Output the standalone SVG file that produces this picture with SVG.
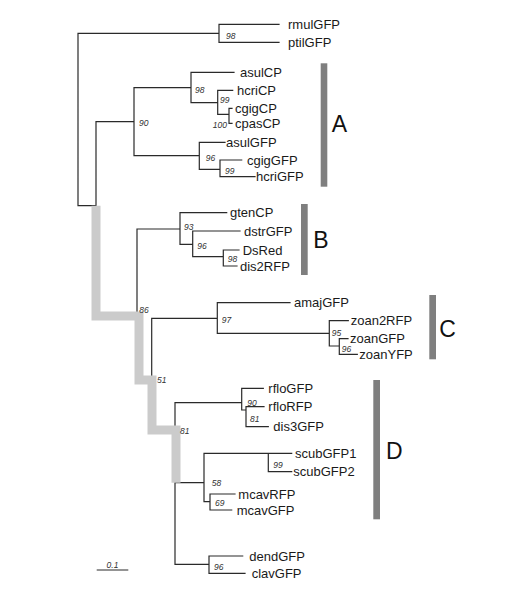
<svg xmlns="http://www.w3.org/2000/svg" width="508" height="600" viewBox="0 0 508 600">
<style>
.br{fill:none;stroke:#2a2a2a;stroke-width:1.2;stroke-linecap:square}
.hl{fill:none;stroke:#cbcbcb;stroke-width:9;stroke-linejoin:miter;stroke-linecap:butt}
.lf{font-family:"Liberation Sans",Arial,sans-serif;font-size:13px;fill:#1a1a1a}
.bs{font-family:"Liberation Sans",Arial,sans-serif;font-size:8.5px;font-style:italic;fill:#333}
.bar{fill:#7f7f7f}
.cl{font-family:"Liberation Sans",Arial,sans-serif;font-size:23px;fill:#111}
</style>
<rect width="508" height="600" fill="#fff"/>
<g id="connectors">
<path class="br" d="M78,33.3V205.7H96 M78,33.3H219 M219,24.3V42.3 M219,24.3H279 M219,42.3H279
M96,121.7V316 M96,121.7H134 M134,87.7V155.7 M134,87.7H191 M134,155.7H199.3
M191,72.3V102.7 M191,72.3H234 M191,102.7H217.7
M217.7,90.3V114.3 M217.7,90.3H232.7 M217.7,114.3H229
M229,108.3V123.3 M229,108.3H232 M229,123.3H232
M199.3,142.3V169.3 M199.3,142.3H225 M199.3,169.3H220
M220,160V176.7 M220,160H241.7 M220,176.7H255
M96,316H137 M137,229V380 M137,229H180 M137,380H151.7
M180,212.7V244.3 M180,212.7H226.7 M180,244.3H192.7
M192.7,231V256.7 M192.7,231H240 M192.7,256.7H223.3
M223.3,250V266 M223.3,250H239 M223.3,266H237
M151.7,318.3V430 M151.7,318.3H217.3 M151.7,430H175
M217.3,302.7V333.3 M217.3,302.7H290 M217.3,333.3H329.3
M329.3,320.7V346 M329.3,320.7H348.3 M329.3,346H339.3
M339.3,338.7V354.3 M339.3,338.7H348 M339.3,354.3H357.3
M175,402.7V564.3 M175,402.7H241.7 M175,482.7H204 M175,564.3H209
M241.7,388.3V410 M241.7,388.3H263.3 M241.7,410H246
M246,406.7V426.7 M246,406.7H264 M246,426.7H268.3
M204,453.3V501.7 M204,453.3H268.3 M204,501.7H210
M268.3,453.3V471.7 M268.3,453.3H291.7 M268.3,471.7H291.7
M210,494V510 M210,494H235 M210,510H231.7
M209,556V573.3 M209,556H242.7 M209,573.3H245"/>
<path id="highlight" class="hl" d="M96,205.7V316H139V380H152V430H176V482.7"/>
</g>
<g id="bootstrap">
<text class="bs" x="226" y="39">98</text>
<text class="bs" x="195" y="93">98</text>
<text class="bs" x="220" y="103">99</text>
<text class="bs" x="227" y="128" text-anchor="end">100</text>
<text class="bs" x="139" y="126">90</text>
<text class="bs" x="205.7" y="161">96</text>
<text class="bs" x="225" y="173.7">99</text>
<text class="bs" x="184" y="230.3">93</text>
<text class="bs" x="197.3" y="249">96</text>
<text class="bs" x="227.7" y="262.3">98</text>
<text class="bs" x="139.3" y="312.5">86</text>
<text class="bs" x="221.7" y="323">97</text>
<text class="bs" x="331.7" y="335.7">95</text>
<text class="bs" x="341.7" y="352.3">96</text>
<text class="bs" x="157" y="383">51</text>
<text class="bs" x="247.3" y="405.7">90</text>
<text class="bs" x="250" y="422.3">81</text>
<text class="bs" x="180" y="434">81</text>
<text class="bs" x="273.3" y="468">99</text>
<text class="bs" x="211.7" y="486.3">58</text>
<text class="bs" x="215" y="506.3">69</text>
<text class="bs" x="214" y="569.7">96</text>
</g>
<g id="leaf-rmulGFP"><text class="lf" x="288" y="28.8">rmulGFP</text></g>
<g id="leaf-ptilGFP"><text class="lf" x="288" y="46.8">ptilGFP</text></g>
<g id="leaf-asulCP"><text class="lf" x="240" y="76.8">asulCP</text></g>
<g id="leaf-hcriCP"><text class="lf" x="237" y="94.8">hcriCP</text></g>
<g id="leaf-cgigCP"><text class="lf" x="235" y="112.8">cgigCP</text></g>
<g id="leaf-cpasCP"><text class="lf" x="235" y="127.8">cpasCP</text></g>
<g id="leaf-asulGFP"><text class="lf" x="226" y="146.8">asulGFP</text></g>
<g id="leaf-cgigGFP"><text class="lf" x="247" y="164.5">cgigGFP</text></g>
<g id="leaf-hcriGFP"><text class="lf" x="256" y="181.2">hcriGFP</text></g>
<g id="leaf-gtenCP"><text class="lf" x="230" y="217.2">gtenCP</text></g>
<g id="leaf-dstrGFP"><text class="lf" x="244" y="235.5">dstrGFP</text></g>
<g id="leaf-DsRed"><text class="lf" x="242.7" y="254.5">DsRed</text></g>
<g id="leaf-dis2RFP"><text class="lf" x="240" y="270.5">dis2RFP</text></g>
<g id="leaf-amajGFP"><text class="lf" x="294" y="307.2">amajGFP</text></g>
<g id="leaf-zoan2RFP"><text class="lf" x="350.7" y="325.2">zoan2RFP</text></g>
<g id="leaf-zoanGFP"><text class="lf" x="350" y="343.2">zoanGFP</text></g>
<g id="leaf-zoanYFP"><text class="lf" x="359.3" y="358.8">zoanYFP</text></g>
<g id="leaf-rfloGFP"><text class="lf" x="268.3" y="392.8">rfloGFP</text></g>
<g id="leaf-rfloRFP"><text class="lf" x="268.3" y="411.2">rfloRFP</text></g>
<g id="leaf-dis3GFP"><text class="lf" x="273.3" y="431.2">dis3GFP</text></g>
<g id="leaf-scubGFP1"><text class="lf" x="295" y="457.8">scubGFP1</text></g>
<g id="leaf-scubGFP2"><text class="lf" x="293.3" y="476.2">scubGFP2</text></g>
<g id="leaf-mcavRFP"><text class="lf" x="238.3" y="498.5">mcavRFP</text></g>
<g id="leaf-mcavGFP"><text class="lf" x="236.7" y="514.5">mcavGFP</text></g>
<g id="leaf-dendGFP"><text class="lf" x="249.3" y="560.5">dendGFP</text></g>
<g id="leaf-clavGFP"><text class="lf" x="251.7" y="577.8">clavGFP</text></g>
<g id="clade-A"><rect class="bar" x="320.7" y="63.3" width="6.6" height="123.4"/><text class="cl" x="331.7" y="131.5">A</text></g>
<g id="clade-B"><rect class="bar" x="301" y="204" width="6.7" height="71"/><text class="cl" x="313.3" y="247.5">B</text></g>
<g id="clade-C"><rect class="bar" x="429.3" y="295" width="6.7" height="64.3"/><text class="cl" x="439.3" y="336.5">C</text></g>
<g id="clade-D"><rect class="bar" x="373.3" y="380" width="6.7" height="139.3"/><text class="cl" x="386" y="458.5">D</text></g>
<g id="scale-bar"><path class="br" d="M97.3,570H127.7"/><text class="bs" x="112.5" y="567.5" text-anchor="middle">0.1</text></g>
</svg>
